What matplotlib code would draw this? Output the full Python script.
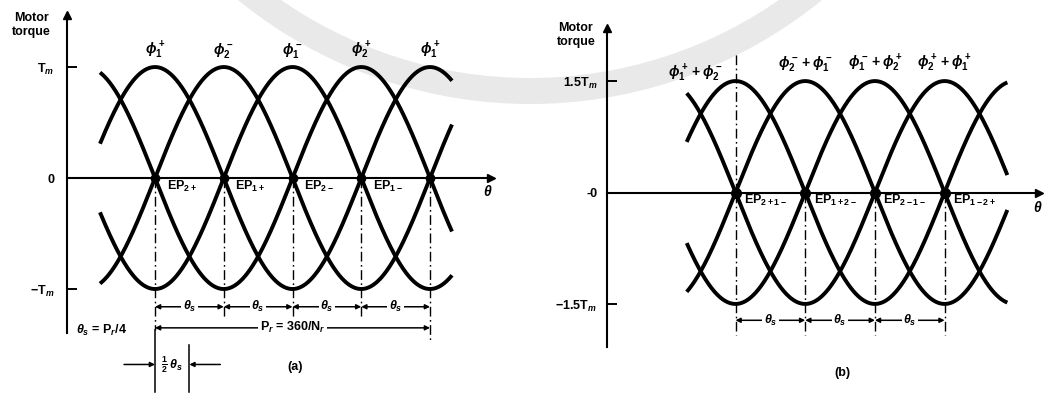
import numpy as np
import matplotlib
matplotlib.use("Agg")
import matplotlib.pyplot as plt
from matplotlib.patches import Wedge

plt.rcParams["font.family"] = ["Liberation Sans", "DejaVu Sans"]
plt.rcParams["font.weight"] = "bold"
plt.rcParams["mathtext.fontset"] = "custom"
plt.rcParams["mathtext.rm"] = "Liberation Sans:bold"
plt.rcParams["mathtext.it"] = "Liberation Sans:italic:bold"
plt.rcParams["mathtext.bf"] = "Liberation Sans:bold"
plt.rcParams["mathtext.fallback"] = "stixsans"

# ---- (a) one phase on: static torque curves, angle in step units (theta_s = 1)
curve_peaks_a = [1, 2, 3, 4]           # peak positions of phi1+, phi2-, phi1-, phi2+
amp_a = 1.0                            # peak torque, units of T_m
span_a = (0.2, 5.32)
peak_label_pos_a = [1, 2, 3, 4, 5]
peak_labels_a = [r"$\phi_1^+$", r"$\phi_2^-$", r"$\phi_1^-$", r"$\phi_2^+$", r"$\phi_1^+$"]
eq_points_a = [1, 2, 3, 4, 5]
eq_labels_a = [r"EP$_{2+}$", r"EP$_{1+}$", r"EP$_{2-}$", r"EP$_{1-}$", ""]
yticks_a = [-1, 0, 1]
ytick_labels_a = [r"$-$T$_m$", "0", r"T$_m$"]

# ---- (b) two phases on
curve_peaks_b = [1, 2, 3, 4]
amp_b = 1.5
span_b = (0.30, 4.9)
peak_labels_b = [r"$\phi_1^+ + \phi_2^-$", r"$\phi_2^- + \phi_1^-$",
                 r"$\phi_1^- + \phi_2^+$", r"$\phi_2^+ + \phi_1^+$"]
eq_points_b = [1, 2, 3, 4]
eq_labels_b = [r"EP$_{2+1-}$", r"EP$_{1+2-}$", r"EP$_{2-1-}$", r"EP$_{1-2+}$"]
yticks_b = [-1.5, 0, 1.5]
ytick_labels_b = [r"$-$1.5T$_m$", "-0", r"1.5T$_m$"]

W, H = 1044, 396
fig = plt.figure(figsize=(W / 100, H / 100), dpi=100)

# faint circular seal band behind the drawing
bg = fig.add_axes([0, 0, 1, 1], zorder=-1)
bg.set_xlim(0, W)
bg.set_ylim(H, 0)
bg.axis("off")
bg.add_patch(Wedge((530, -358), 462, 18, 162, width=26, facecolor="#e9e9e9",
                   edgecolor="none"))

DASHDOT = (0, (7, 2.5, 1.2, 2.5))
LW_CURVE = 2.8
TXT = 9


def setup_axes(rect, xlim, ylim, x_axis, y_bot, y_top, x_end, yt, ytl, pad):
    ax = fig.add_axes(rect)
    ax.set_facecolor("none")
    ax.set_xlim(*xlim)
    ax.set_ylim(*ylim)
    for s in ("top", "right"):
        ax.spines[s].set_visible(False)
    ax.spines["left"].set_position(("data", x_axis))
    ax.spines["left"].set_bounds(y_bot, y_top)
    ax.spines["bottom"].set_position(("data", 0))
    ax.spines["bottom"].set_bounds(x_axis, x_end)
    for s in ("left", "bottom"):
        ax.spines[s].set_linewidth(1.5)
    ax.set_xticks([])
    ax.set_yticks(yt)
    ax.set_yticklabels(ytl, fontsize=TXT)
    ax.tick_params(axis="y", direction="in", length=7, width=1.4, pad=pad)
    ax.plot([x_axis], [y_top], marker="^", ms=6, color="k", clip_on=False)
    ax.plot([x_end], [0], marker=">", ms=6, color="k", clip_on=False)
    return ax


def dim_arrow(ax, x0, x1, y, label, fs=TXT):
    ax.annotate("", xy=(x1, y), xytext=(x0, y),
                arrowprops=dict(arrowstyle="<|-|>", lw=1.1, color="k",
                                shrinkA=0, shrinkB=0, mutation_scale=7))
    if label:
        ax.text((x0 + x1) / 2, y, label, fontsize=fs, ha="center", va="center",
                bbox=dict(facecolor="white", edgecolor="none", pad=1.0))


# ================= panel (a) =================
ax = setup_axes([0, 0, 520 / W, 1], (-1.2545, 6.309), (-1.964, 1.604),
                -0.28, -1.40, 1.47, 5.88, yticks_a, ytick_labels_a, 9)

th = np.linspace(*span_a, 600)
for p in curve_peaks_a:
    ax.plot(th, amp_a * np.cos(np.pi / 2 * (th - p)), color="k", lw=LW_CURVE,
            solid_capstyle="butt")

for x, lab in zip(peak_label_pos_a, peak_labels_a):
    ax.text(x, 1.15, lab, fontsize=TXT + 1, ha="center", va="center")

ax.plot(eq_points_a, np.zeros(len(eq_points_a)), "o", color="k", ms=6)
for x, lab in zip(eq_points_a, eq_labels_a):
    if lab:
        ax.text(x + 0.17, -0.08, lab, fontsize=TXT, ha="left", va="center")

# dash-dot drop lines from the equilibrium points
drop_a = [-1.37, -1.25, -1.25, -1.25, -1.49]
for x, yb in zip(eq_points_a, drop_a):
    ax.plot([x, x], [0, yb], color="k", lw=1.0, ls=DASHDOT)
ax.plot([1, 1], [-1.37, -1.93], color="k", lw=1.1)

for i in range(4):
    dim_arrow(ax, eq_points_a[i], eq_points_a[i + 1], -1.16, r"$\theta_s$")
dim_arrow(ax, eq_points_a[0], eq_points_a[-1], -1.35, r"P$_r$ = 360/N$_r$")

ax.text(-0.15, -1.37, r"$\theta_s$ = P$_r$/4", fontsize=TXT, ha="left", va="center")

# half-step marker
ax.plot([1.5, 1.5], [-1.50, -1.93], color="k", lw=1.1)
ax.annotate("", xy=(1.0, -1.68), xytext=(0.55, -1.68),
            arrowprops=dict(arrowstyle="-|>", lw=1.1, color="k",
                            shrinkA=0, shrinkB=0, mutation_scale=7))
ax.annotate("", xy=(1.5, -1.68), xytext=(1.95, -1.68),
            arrowprops=dict(arrowstyle="-|>", lw=1.1, color="k",
                            shrinkA=0, shrinkB=0, mutation_scale=7))
ax.text(1.25, -1.68, r"$\frac{1}{2}\,\theta_s$", fontsize=TXT, ha="center", va="center")

ax.text(5.84, -0.12, r"$\theta$", fontsize=TXT + 1, ha="center", va="center")
ax.text(-0.80, 1.38, "Motor\ntorque", fontsize=TXT, ha="center", va="center",
        linespacing=1.15)
ax.text(3.04, -1.70, "(a)", fontsize=TXT, ha="center", va="center")

# ================= panel (b) =================
bx = setup_axes([520 / W, 0, 524 / W, 1], (-2.092, 5.426), (-2.739, 2.591),
                -0.844, -2.08, 2.22, 5.36, yticks_b, ytick_labels_b, 7)

th = np.linspace(*span_b, 600)
for p in curve_peaks_b:
    bx.plot(th, amp_b * np.cos(np.pi / 2 * (th - p)), color="k", lw=LW_CURVE,
            solid_capstyle="butt")

bx.text(0.42, 1.60, peak_labels_b[0], fontsize=TXT + 1, ha="center", va="center")
for x, lab in zip(curve_peaks_b[1:], peak_labels_b[1:]):
    bx.text(x, 1.74, lab, fontsize=TXT + 1, ha="center", va="center")

bx.plot(eq_points_b, np.zeros(len(eq_points_b)), "o", color="k", ms=7)
for x, lab in zip(eq_points_b, eq_labels_b):
    bx.text(x + 0.12, -0.11, lab, fontsize=TXT, ha="left", va="center")

bx.plot([1, 1], [0, 1.88], color="k", lw=1.0, ls=DASHDOT)
for x in eq_points_b:
    bx.plot([x, x], [0, -1.92], color="k", lw=1.0, ls=DASHDOT)
for i in range(3):
    dim_arrow(bx, eq_points_b[i], eq_points_b[i + 1], -1.72, r"$\theta_s$")

bx.text(5.34, -0.20, r"$\theta$", fontsize=TXT + 1, ha="center", va="center")
bx.text(-1.29, 2.12, "Motor\ntorque", fontsize=TXT, ha="center", va="center",
        linespacing=1.15)
bx.text(2.54, -2.43, "(b)", fontsize=TXT, ha="center", va="center")

fig.savefig("out.png", dpi=100)
